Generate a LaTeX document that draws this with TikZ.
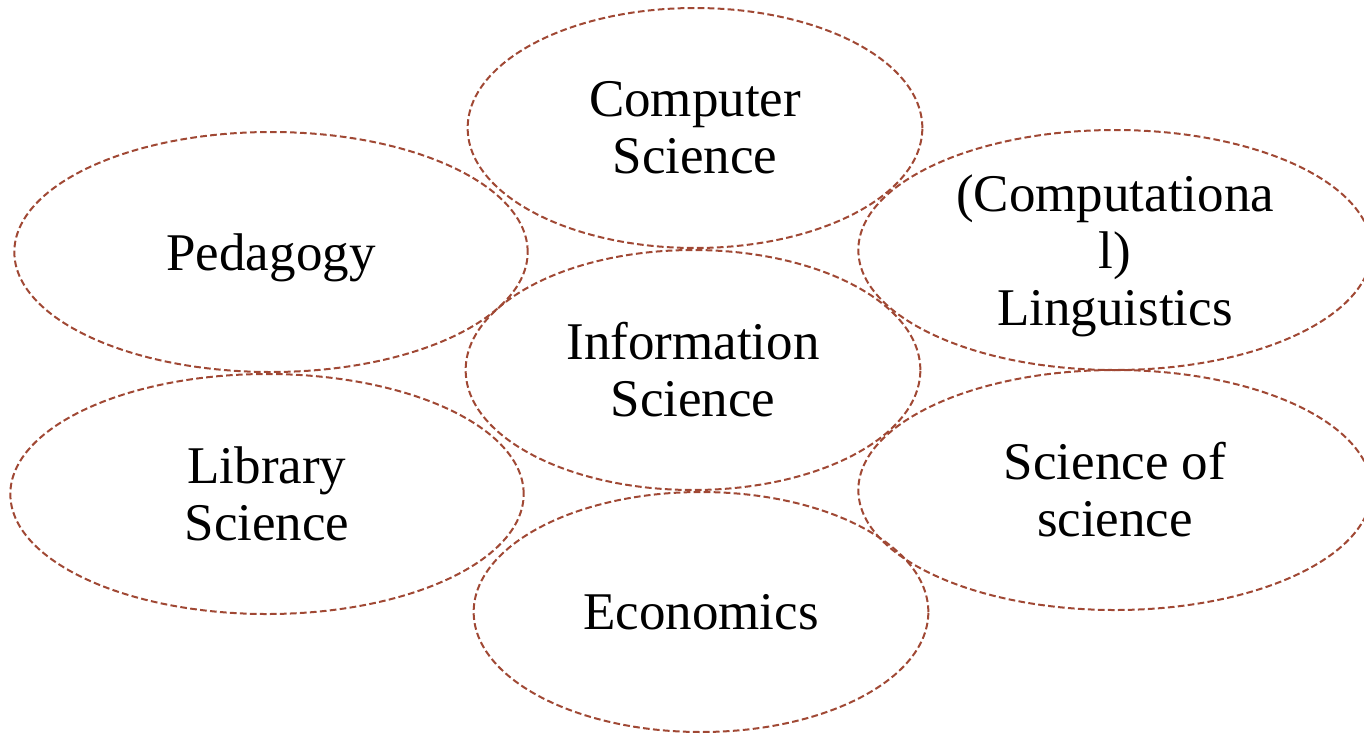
\documentclass[tikz,border=0pt]{standalone}
\usepackage{fontspec}
\setmainfont{Liberation Serif}
\usetikzlibrary{shapes.geometric}

\definecolor{bubbleline}{RGB}{160,72,52}

\tikzset{every picture/.style={line width=0.75pt}}
\tikzset{
  field/.style={ellipse, draw=bubbleline, line width=1.5pt,
    dash pattern=on 5pt off 2.5pt, inner sep=0pt,
    align=center, font=\fontsize{39.75pt}{42.75pt}\selectfont},
  narrow/.style={field, minimum width=341pt, minimum height=180pt},
  wide/.style={field, minimum width=385pt, minimum height=180pt},
  nodepth/.style={text depth=0pt}
}

\begin{document}
\begin{tikzpicture}[x=0.75pt,y=0.75pt,yscale=-1,xscale=1]
%set diagram left start at 0, and has height of 733
\useasboundingbox (0,0) rectangle (1364,733);

% Middle column
\node [narrow] (compsci) at (695,128) {Computer\\Science};
\node [narrow] (infosci) at (693,370) {Information\\Science};
\node [narrow] (econ) at (701,612) {Economics};

% Left column
\node [wide, nodepth] (pedagogy) at (271,252) {Pedagogy};
\node [wide] (libsci) at (267,494) {Library\\Science};

% Right column
\node [wide, nodepth] (ling) at (1115,250) {(Computationa\\l)\\Linguistics};
\node [wide] (sciofsci) at (1115,490) {Science of\\science};

\end{tikzpicture}
\end{document}
